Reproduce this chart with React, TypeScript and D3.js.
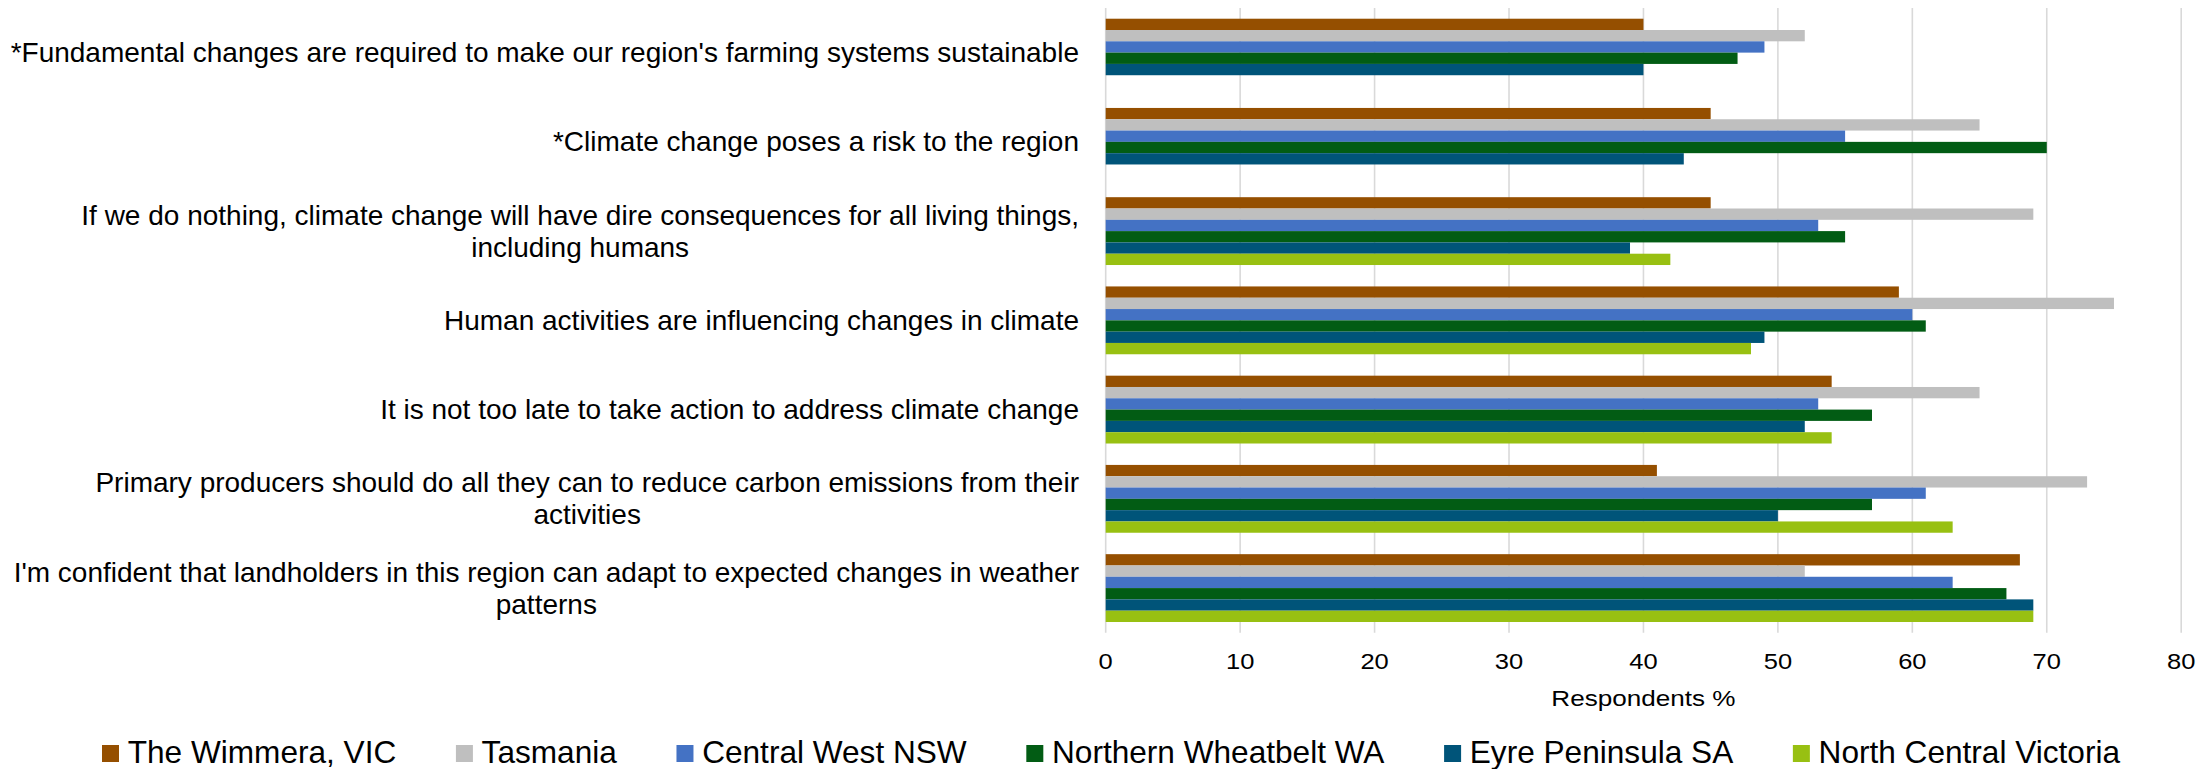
import React, { useMemo } from "react";
import * as d3 from "d3";

// Survey statements (each entry holds the wrapped lines of the label)
const statements: string[][] = [
  ["*Fundamental changes are required to make our region's farming systems sustainable"],
  ["*Climate change poses a risk to the region"],
  ["If we do nothing, climate change will have dire consequences for all living things,", "including humans"],
  ["Human activities are influencing changes in climate"],
  ["It is not too late to take action to address climate change"],
  ["Primary producers should do all they can to reduce carbon emissions from their", "activities"],
  ["I'm confident that landholders in this region can adapt to expected changes in weather", "patterns"],
];

const regions = [
  "The Wimmera, VIC",
  "Tasmania",
  "Central West NSW",
  "Northern Wheatbelt WA",
  "Eyre Peninsula SA",
  "North Central Victoria",
];

const regionColors = ["#954F00", "#BFBFBF", "#4472C4", "#025C14", "#005479", "#98C012"];

// Respondents agreeing (%) per statement, one list per region
const wimmera = [40, 45, 45, 59, 54, 41, 68];
const tasmania = [52, 65, 69, 75, 65, 73, 52];
const centralWest = [49, 55, 53, 60, 53, 61, 63];
const northernWheatbelt = [47, 70, 55, 61, 57, 57, 67];
const eyrePeninsula = [40, 43, 39, 49, 52, 50, 69];
const northCentral: (number | null)[] = [null, null, 42, 48, 54, 63, 69];

const seriesValues: (number | null)[][] = [
  wimmera,
  tasmania,
  centralWest,
  northernWheatbelt,
  eyrePeninsula,
  northCentral,
];

const xTicks = [0, 10, 20, 30, 40, 50, 60, 70, 80];
const axisTitle = "Respondents %";

const FONT = '"Liberation Sans", Arial, Helvetica, sans-serif';
const W = 2212;
const H = 769;

const plot = { left: 1105.7, right: 2181.2, top: 8, bottom: 632.7 };
const labelSize = 28;
const tickSize = 22;
const tickStretch = 1.16;
const legendSize = 31.6;

let measureCtx: CanvasRenderingContext2D | null = null;
function textWidth(text: string, size: number): number {
  if (!measureCtx) {
    const c = document.createElement("canvas");
    measureCtx = c.getContext("2d");
  }
  if (!measureCtx) return text.length * size * 0.5;
  measureCtx.font = `${size}px ${FONT}`;
  return measureCtx.measureText(text).width;
}

export default function App() {
  const x = d3.scaleLinear().domain([0, 80]).range([plot.left, plot.right]);
  const y = d3
    .scaleBand<number>()
    .domain(statements.map((_, i) => i))
    .range([plot.top, plot.bottom])
    .paddingInner(0.24)
    .paddingOuter(0.12);
  const ySub = d3
    .scaleBand<number>()
    .domain(regions.map((_, i) => i))
    .range([0, y.bandwidth()])
    .padding(0);

  const labelRight = 1079;
  const lineHeight = 32;

  const labelBlocks = useMemo(
    () =>
      statements.map((lines) => {
        const widths = lines.map((l) => textWidth(l, labelSize));
        return { lines, maxW: Math.max(...widths) };
      }),
    []
  );

  // legend layout: equal gaps between entries, spanning a fixed width
  const legendItems = useMemo(() => {
    const marker = 17;
    const markerGap = 8.7;
    const widths = regions.map((r) => textWidth(r, legendSize));
    const start = 102;
    const end = 2120;
    const used = widths.reduce((a, b) => a + b, 0) + regions.length * (marker + markerGap);
    const gap = (end - start - used) / (regions.length - 1);
    let cx = start;
    return regions.map((r, i) => {
      const item = { name: r, x: cx, color: regionColors[i], marker, markerGap };
      cx += marker + markerGap + widths[i] + gap;
      return item;
    });
  }, []);

  return (
    <svg
      width={W}
      height={H}
      style={{ position: "absolute", left: 0, top: 0, background: "#fff" }}
      fontFamily={FONT}
    >
      <rect width={W} height={H} fill="#fff" />
      {/* vertical gridlines */}
      {xTicks.map((t) => (
        <line
          key={`g${t}`}
          x1={x(t)}
          x2={x(t)}
          y1={plot.top}
          y2={plot.bottom}
          stroke="#D9D9D9"
          strokeWidth={1.6}
        />
      ))}

      {/* bars */}
      {statements.map((_, ci) => (
        <g key={`c${ci}`} transform={`translate(0,${y(ci)})`}>
          {seriesValues.map((vals, si) => {
            const v = vals[ci];
            if (v === null || v === undefined) return null;
            return (
              <rect
                key={`b${si}`}
                x={x(0)}
                y={ySub(si)}
                width={x(v) - x(0)}
                height={ySub.bandwidth()}
                fill={regionColors[si]}
              />
            );
          })}
        </g>
      ))}

      {/* category labels */}
      {labelBlocks.map((blk, ci) => {
        const cy = (y(ci) as number) + y.bandwidth() / 2;
        const n = blk.lines.length;
        const cxMid = labelRight - blk.maxW / 2;
        return (
          <text key={`l${ci}`} fontSize={labelSize} fill="#000">
            {blk.lines.map((ln, li) => (
              <tspan
                key={li}
                x={n > 1 ? cxMid : labelRight}
                y={cy + 9.6 + (li - (n - 1) / 2) * lineHeight}
                textAnchor={n > 1 ? "middle" : "end"}
              >
                {ln}
              </tspan>
            ))}
          </text>
        );
      })}

      {/* x tick labels */}
      {xTicks.map((t) => (
        <text
          key={`t${t}`}
          transform={`translate(${x(t)},669) scale(${tickStretch},1)`}
          fontSize={tickSize}
          textAnchor="middle"
          fill="#000"
        >
          {t}
        </text>
      ))}

      <text
        transform={`translate(${(plot.left + plot.right) / 2},706) scale(${tickStretch},1)`}
        fontSize={22.5}
        textAnchor="middle"
        fill="#000"
      >
        {axisTitle}
      </text>

      {/* legend */}
      {legendItems.map((it) => (
        <g key={it.name}>
          <rect x={it.x} y={745} width={it.marker} height={it.marker} fill={it.color} />
          <text x={it.x + it.marker + it.markerGap} y={763.3} fontSize={legendSize} fill="#000">
            {it.name}
          </text>
        </g>
      ))}
    </svg>
  );
}
